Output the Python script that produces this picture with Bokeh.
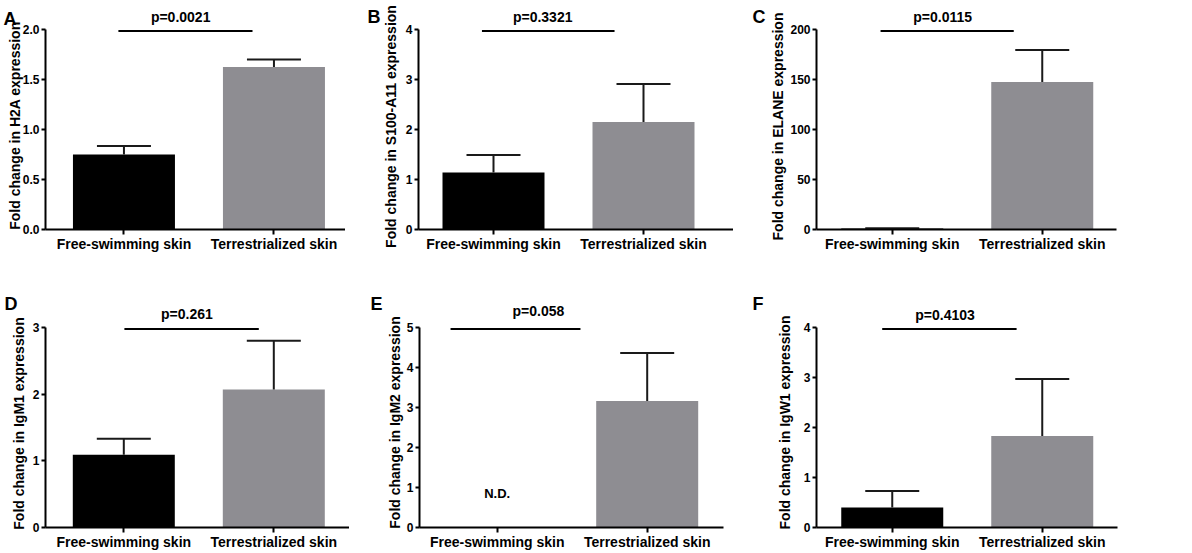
import math
from bokeh.plotting import figure
from bokeh.models import FixedTicker, Range1d, PrintfTickFormatter
from bokeh.layouts import column, row
from bokeh.embed import file_html
from bokeh.resources import INLINE
from bokeh.core.properties import value

# ---------------- data ----------------
categories = ["Free-swimming skin", "Terrestrialized skin"]
panel_letters = ["A", "B", "C", "D", "E", "F"]
genes = ["H2A", "S100-A11", "ELANE", "IgM1", "IgM2", "IgW1"]
free_mean = [0.75, 1.14, 1.0, 1.09, 0.0, 0.40]
free_err = [0.086, 0.35, 0.3, 0.24, 0.0, 0.33]
free_detected = [True, True, True, True, False, True]
terr_mean = [1.625, 2.15, 147.5, 2.07, 3.16, 1.83]
terr_err = [0.075, 0.76, 32.0, 0.73, 1.20, 1.14]
p_labels = ["p=0.0021", "p=0.3321", "p=0.0115", "p=0.261", "p=0.058", "p=0.4103"]
y_max = [2.0, 4, 200, 3, 5, 4]
y_step = [0.5, 1, 50, 1, 1, 1]
y_decimals = [1, 0, 0, 0, 0, 0]
# significance bar extents and p-label centre (category units)
sig_start = [0.963, 0.923, 0.922, 1.004, 0.689, 0.933]
sig_end = [1.857, 1.807, 1.810, 1.900, 1.555, 1.829]
p_x = [1.378, 1.328, 1.336, 1.421, 1.275, 1.352]
nd_label = "N.D."
nd_y = 0.85

# ---------------- layout (page pixels) ----------------
FONT = "Liberation Sans"
BAR_COLORS = ["#000000", "#8E8D92"]
AXIS_PX = 200                 # pixels from 0 to y_max
X_PX = 150                    # pixels per category unit
ROW_TOP = [0, 276]
ROW_BOTTOM = [276, 552]
ZERO_Y = [229, 527]
fig_left = [0, 345, 733, 0, 349, 724]
fig_right = [345, 733, 1150, 349, 724, 1150]
axis_x = [45, 418, 816, 45, 419, 816]
axis_end = [345, 733, 1116, 349, 723, 1117]
x_start = [0.477, 0.5, 0.495, 0.478, 0.482, 0.495]   # category value at the y-axis
ylabel_cx = [14, 390, 777, 18, 394, 784]
ylabel_cy = [125, 126, 126, 423, 422, 422]
letter_left = [3, 367, 752, 4, 370, 752]
letter_base = [18.5, 16.7, 16.7, 303.3, 303, 303.3]
p_base = [16.7, 16.7, 16.7, 313.3, 310.7, 314]
BAR_W = 0.68
CAP_HALF = 0.18
SIG_FRAC = 0.993


def make_panel(i):
    r = 0 if i < 3 else 1
    ymax = y_max[i]
    xs0 = x_start[i]

    def xd(px):
        return xs0 + (px - axis_x[i]) / X_PX

    def yd(py):
        return (ZERO_Y[r] - py) * ymax / AXIS_PX

    p = figure(frame_width=fig_right[i] - fig_left[i],
               frame_height=ROW_BOTTOM[r] - ROW_TOP[r],
               x_range=Range1d(xd(fig_left[i]), xd(fig_right[i])),
               y_range=Range1d(yd(ROW_BOTTOM[r]), yd(ROW_TOP[r])),
               output_backend="svg", toolbar_location=None,
               min_border_left=0, min_border_right=0,
               min_border_top=0, min_border_bottom=0)
    p.outline_line_color = None
    p.xgrid.grid_line_color = None
    p.ygrid.grid_line_color = None
    p.background_fill_color = "white"
    p.border_fill_color = "white"

    xs = [1, 2]
    tops = [free_mean[i], terr_mean[i]]
    errs = [free_err[i], terr_err[i]]
    colors = BAR_COLORS[:]
    if not free_detected[i]:
        xs, tops, errs, colors = xs[1:], tops[1:], errs[1:], colors[1:]
    p.vbar(x=xs, top=tops, bottom=0, width=BAR_W, fill_color=colors, line_color=None)
    # error bars (upper only)
    ups = [t + e for t, e in zip(tops, errs)]
    p.segment(x0=xs, y0=tops, x1=xs, y1=ups, line_color="#1a1a1a", line_width=2)
    p.segment(x0=[x - CAP_HALF for x in xs], y0=ups, x1=[x + CAP_HALF for x in xs], y1=ups,
              line_color="#1a1a1a", line_width=2)

    # significance line and p label
    sig_y = ymax * SIG_FRAC
    p.segment(x0=[sig_start[i]], y0=[sig_y], x1=[sig_end[i]], y1=[sig_y],
              line_color="black", line_width=2)
    p.text(x=[p_x[i]], y=[yd(p_base[i])], text=[p_labels[i]],
           text_font=value(FONT), text_font_style="bold", text_font_size="14px",
           text_align="center", text_baseline="alphabetic", text_color="black")
    if not free_detected[i]:
        p.text(x=[1.0], y=[nd_y], text=[nd_label], text_font=value(FONT),
               text_font_style="bold", text_font_size="13px", text_align="center",
               text_baseline="middle", text_color="black")

    # y-axis title (rotated) and panel letter
    p.text(x=[xd(ylabel_cx[i])], y=[yd(ylabel_cy[i])],
           text=["Fold change in %s expression" % genes[i]], angle=math.pi / 2,
           text_font=value(FONT), text_font_style="bold", text_font_size="14px",
           text_align="center", text_baseline="middle", text_color="black")
    p.text(x=[xd(letter_left[i])], y=[yd(letter_base[i])],
           text=[panel_letters[i]], text_font=value(FONT), text_font_style="bold",
           text_font_size="18px", text_align="left", text_baseline="alphabetic",
           text_color="black")

    # x axis along y = 0
    p.xaxis.fixed_location = 0
    p.xaxis.bounds = (xs0, xd(axis_end[i]))
    p.xaxis.ticker = FixedTicker(ticks=[1, 2])
    p.xaxis.major_label_overrides = {1: categories[0], 2: categories[1]}
    p.xaxis.major_label_text_font = FONT
    p.xaxis.major_label_text_font_style = "bold"
    p.xaxis.major_label_text_font_size = "14px"
    p.xaxis.major_label_standoff = 1
    p.xaxis.major_tick_in = 0
    p.xaxis.major_tick_out = 5
    p.xaxis.minor_tick_line_color = None

    # y axis at the left end of the x axis
    n = int(round(ymax / y_step[i]))
    p.yaxis.fixed_location = xs0
    p.yaxis.ticker = FixedTicker(ticks=[k * y_step[i] for k in range(n + 1)])
    p.yaxis.formatter = PrintfTickFormatter(format="%%.%df" % y_decimals[i])
    p.yaxis.bounds = (0, ymax)
    p.yaxis.major_label_text_font = FONT
    p.yaxis.major_label_text_font_style = "bold"
    p.yaxis.major_label_text_font_size = "12px"
    p.yaxis.major_label_standoff = 2
    p.yaxis.major_tick_in = 0
    p.yaxis.major_tick_out = 4
    p.yaxis.minor_tick_line_color = None
    for ax in (p.xaxis, p.yaxis):
        ax.axis_line_width = 2
        ax.axis_line_color = "black"
        ax.major_tick_line_width = 2
        ax.major_tick_line_color = "black"
        ax.major_label_text_color = "black"
    return p


panels = [make_panel(i) for i in range(6)]
layout = column(row(*panels[:3]), row(*panels[3:]))
open("out.html", "w").write(file_html(layout, INLINE))
